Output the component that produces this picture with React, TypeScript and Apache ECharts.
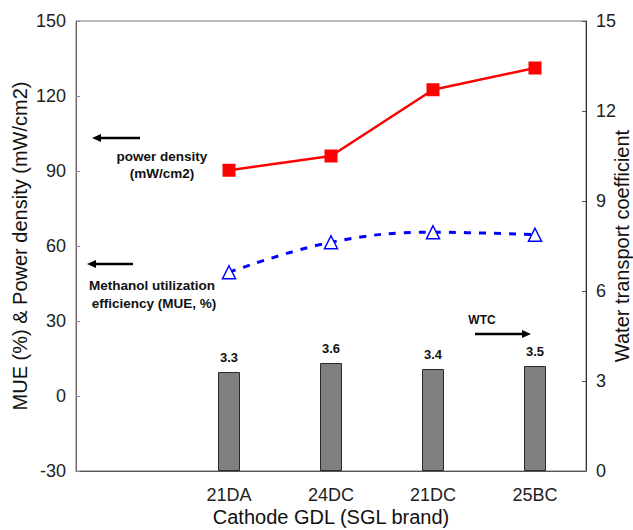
import React, { useEffect, useRef } from "react";
import * as echarts from "echarts";

const categories = ["", "21DA", "24DC", "21DC", "25BC"];
const powerDensity = [null, 90.3, 96, 122.5, 131.2];
const mue = [null, 49.5, 61.5, 65.5, 64.5];
const wtc = [null, 3.3, 3.6, 3.4, 3.5];
const leftTicks = { min: -30, max: 150, interval: 30 };
const rightTicks = { min: 0, max: 15, interval: 3 };

const FONT = "'Liberation Sans', Arial, sans-serif";

function arrow(x1: number, x2: number, y: number) {
  // horizontal arrow; head at x2
  const dir = x2 > x1 ? 1 : -1;
  return [
    {
      type: "line",
      shape: { x1, y1: y, x2: x2 - dir * 6, y2: y },
      style: { stroke: "#000", lineWidth: 2.5 },
      silent: true,
    },
    {
      type: "polygon",
      shape: {
        points: [
          [x2, y],
          [x2 - dir * 9, y - 4],
          [x2 - dir * 9, y + 4],
        ],
      },
      style: { fill: "#000" },
      silent: true,
    },
  ];
}

function note(text: string, x: number, y: number, size: number) {
  return {
    type: "text",
    x,
    y,
    style: {
      text,
      font: `bold ${size}px ${FONT}`,
      fill: "#111",
      align: "center",
      verticalAlign: "middle",
    },
  };
}

export default function App() {
  const ref = useRef<HTMLDivElement>(null);
  useEffect(() => {
    if (!ref.current) return;
    const chart = echarts.init(ref.current, null, { renderer: "svg" });
    const axisLabel = { fontFamily: FONT, fontSize: 18, color: "#222" };
    const nameStyle = { fontFamily: FONT, fontSize: 20, color: "#111" };
    chart.setOption({
      animation: false,
      backgroundColor: "#fff",
      grid: {
        left: 76,
        right: 47,
        top: 21,
        bottom: 59,
        show: true,
        borderColor: "#777",
        borderWidth: 1,
        outerBoundsMode: "none",
        containLabel: false,
      },
      xAxis: {
        type: "category",
        data: categories,
        name: "Cathode GDL (SGL brand)",
        nameLocation: "middle",
        nameGap: 36,
        nameMoveOverlap: false,
        nameTextStyle: nameStyle,
        axisLine: { onZero: false, lineStyle: { color: "#555", width: 1 } },
        axisTick: { inside: true, length: 4, lineStyle: { color: "#888" } },
        axisLabel: { ...axisLabel, margin: 15 },
        splitLine: { show: false },
      },
      yAxis: [
        {
          type: "value",
          ...leftTicks,
          name: "MUE (%) & Power density (mW/cm2)",
          nameLocation: "middle",
          nameGap: 46,
          nameMoveOverlap: false,
          nameTextStyle: nameStyle,
          axisLine: { show: true, lineStyle: { color: "#666" } },
          axisTick: { show: true, inside: true, length: 4, lineStyle: { color: "#888" } },
          axisLabel: { ...axisLabel, margin: 10 },
          splitLine: { show: false },
        },
        {
          type: "value",
          ...rightTicks,
          position: "right",
          name: "Water transport coefficient",
          nameLocation: "middle",
          nameGap: 26,
          nameRotate: 90,
          nameMoveOverlap: false,
          nameTextStyle: nameStyle,
          axisLine: { show: true, lineStyle: { color: "#333" } },
          axisTick: { show: true, inside: true, length: 4, lineStyle: { color: "#555" } },
          axisLabel: { ...axisLabel, margin: 10 },
          splitLine: { show: false },
        },
      ],
      series: [
        {
          type: "bar",
          yAxisIndex: 1,
          data: wtc,
          barWidth: 22,
          itemStyle: { color: "#808080", borderColor: "#2a2a2a", borderWidth: 1 },
          label: {
            show: true,
            position: "top",
            distance: 8,
            fontFamily: FONT,
            fontSize: 13,
            fontWeight: "bold",
            color: "#111",
            formatter: (p: any) => Number(p.value).toFixed(1),
          },
        },
        {
          type: "line",
          data: powerDensity,
          symbol: "rect",
          symbolSize: 13,
          lineStyle: { color: "#ff0000", width: 2.5 },
          itemStyle: { color: "#ff0000" },
          z: 5,
        },
        {
          type: "line",
          data: mue,
          smooth: 0.4,
          symbol: "triangle",
          symbolSize: 13,
          lineStyle: { color: "#0000ff", width: 3, type: [7, 8] },
          itemStyle: { color: "#fff", borderColor: "#0000ff", borderWidth: 1.5 },
          z: 5,
        },
      ],
      graphic: [
        ...arrow(140, 92, 138),
        note("power density", 162, 156, 13.5),
        note("(mW/cm2)", 162, 173, 13.5),
        ...arrow(133, 87, 264),
        note("Methanol utilization", 152, 285, 13.5),
        note("efficiency (MUE, %)", 154, 303, 13.5),
        note("WTC", 482, 320, 12),
        ...arrow(475, 531, 334),
      ],
    });
    return () => chart.dispose();
  }, []);
  return (
    <div
      ref={ref}
      style={{ width: 633, height: 530, position: "absolute", left: 0, top: 0 }}
    />
  );
}
